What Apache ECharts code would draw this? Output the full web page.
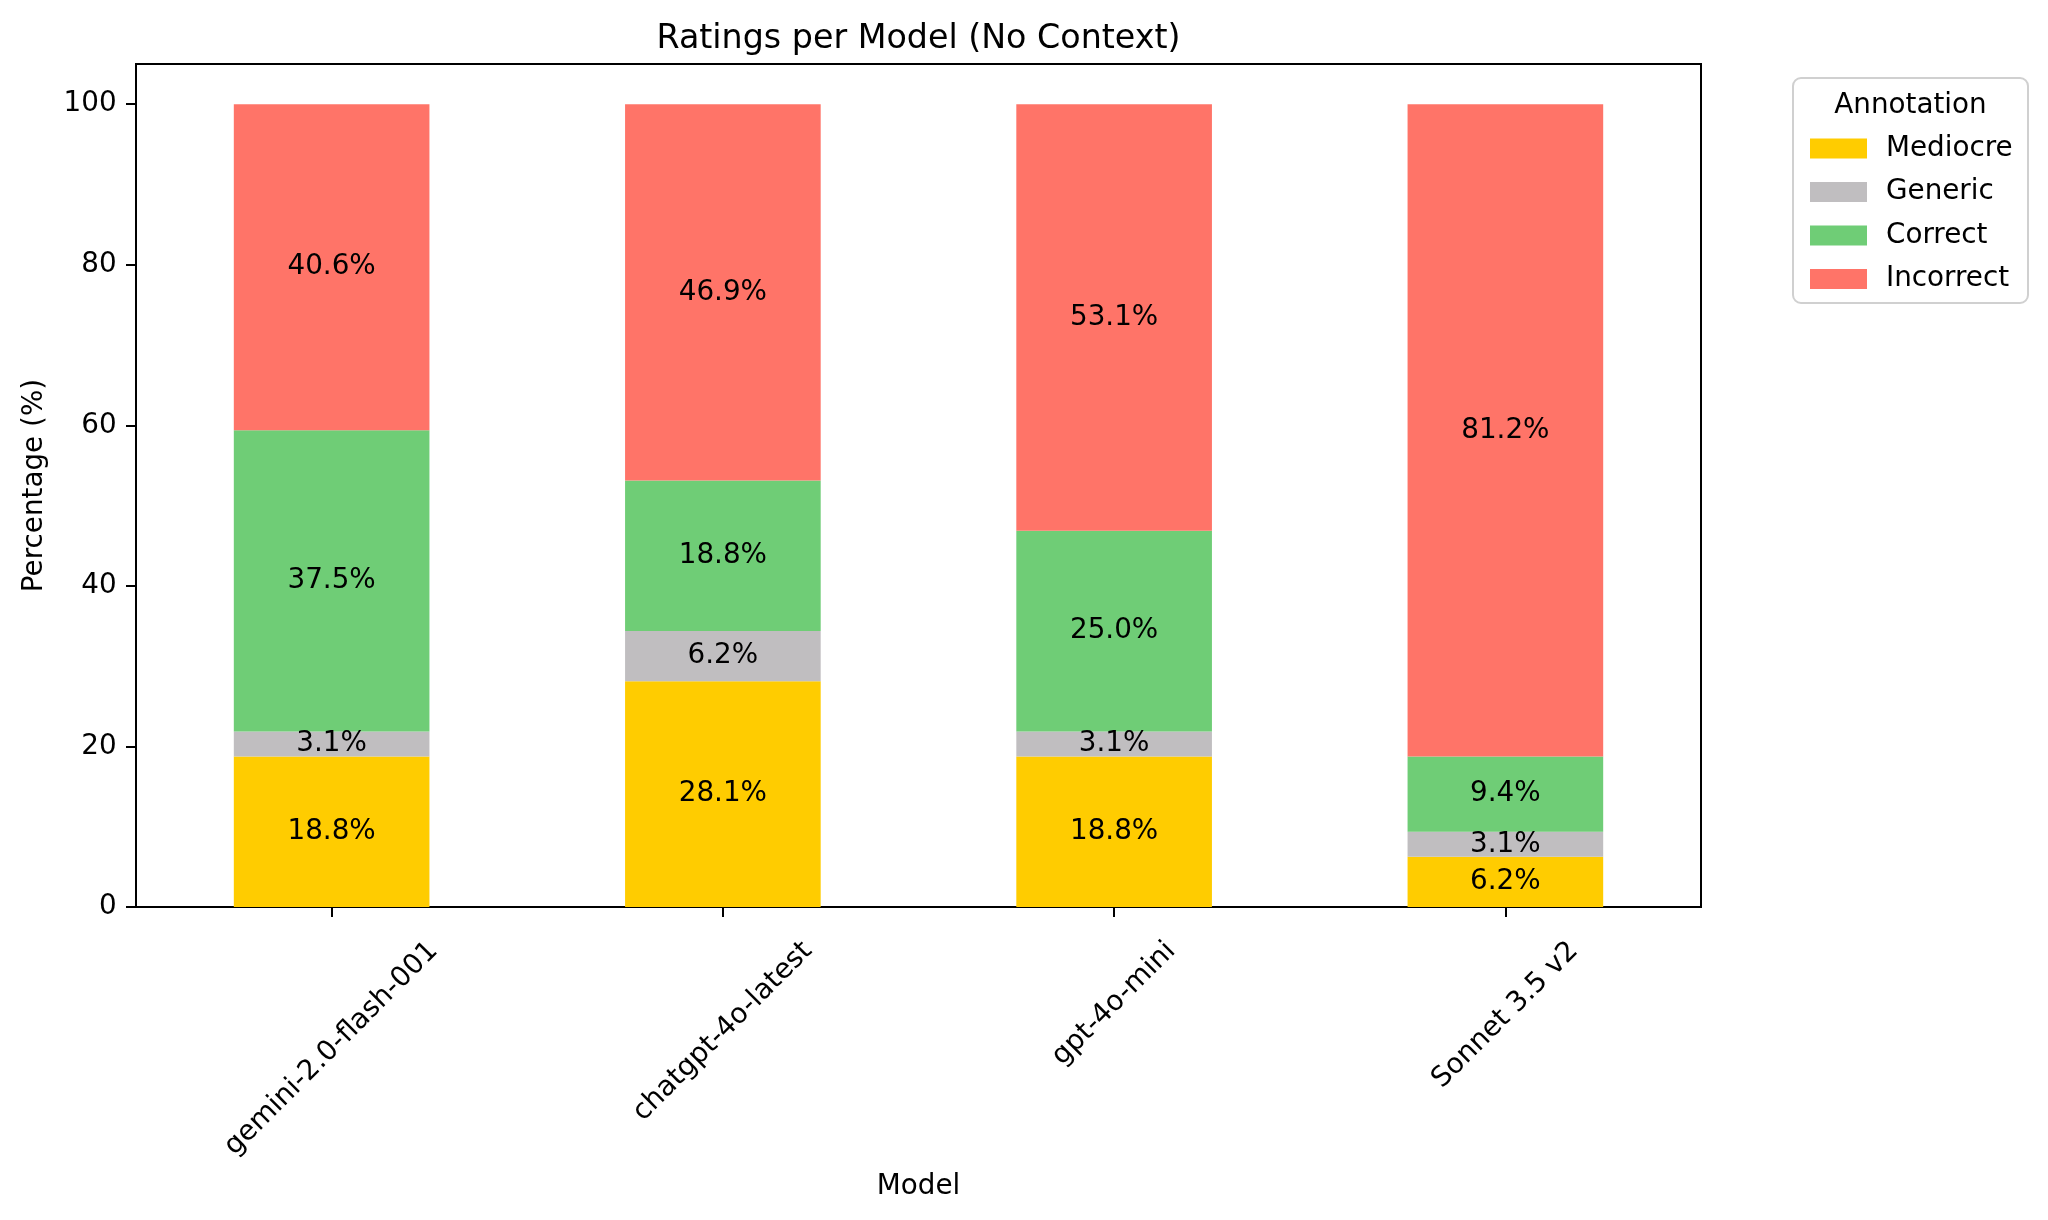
<!DOCTYPE html>
<html><head><meta charset="utf-8">
<script src="https://cdn.jsdelivr.net/npm/echarts@6/dist/echarts.min.js"></script>
<style>html,body{margin:0;padding:0;background:#fff}#c{width:2048px;height:1220px}</style>
</head><body><div id="c"></div>
<script>
const categories = ['gemini-2.0-flash-001', 'chatgpt-4o-latest', 'gpt-4o-mini', 'Sonnet 3.5 v2'];
const seriesNames = ['Mediocre', 'Generic', 'Correct', 'Incorrect'];
const mediocre = [18.75, 28.125, 18.75, 6.25];
const generic = [3.125, 6.25, 3.125, 3.125];
const correct = [37.5, 18.75, 25.0, 9.375];
const incorrect = [40.625, 46.875, 53.125, 81.25];
const yTicks = [0, 20, 40, 60, 80, 100];
const colors = ['#FFCC00', '#C0BEC0', '#6FCD76', '#FF7468'];

const FONT = 'DejaVu Sans';
const FS = 27.8;

function fmt(v) {
  const x = v * 10;
  const f = Math.floor(x + 1e-9);
  let n;
  if (Math.abs(x - f - 0.5) < 1e-9) n = (f % 2 === 0) ? f : f + 1;
  else n = Math.round(x);
  return (n / 10).toFixed(1) + '%';
}

// rotated x labels, matplotlib-like (centered on tick, bbox top fixed)
const ctx = document.createElement('canvas').getContext('2d');
ctx.font = FS + 'px "' + FONT + '"';
const M = 20;
const rich = {};
categories.forEach((c, i) => {
  const w = ctx.measureText(c).width;
  const D = 30 + 0.354 * (w + 27);
  const p = Math.SQRT2 * (D - M);
  rich['c' + i] = { fontSize: FS, fontFamily: FONT, color: '#000', padding: [p, p, 0, 0] };
});

const seriesData = [mediocre, generic, correct, incorrect];
const series = seriesNames.map((name, i) => ({
  name: name,
  type: 'bar',
  stack: 'total',
  barWidth: '50%',
  data: seriesData[i],
  itemStyle: { color: colors[i] },
  label: {
    show: true, position: 'inside', color: '#000', fontSize: FS, fontFamily: FONT,
    textBorderWidth: 0, formatter: p => fmt(p.value)
  },
  emphasis: { disabled: true }
}));

const chart = echarts.init(document.getElementById('c'), null, { renderer: 'canvas' });
chart.setOption({
  animation: false,
  backgroundColor: '#fff',
  textStyle: { fontFamily: FONT },
  title: {
    text: 'Ratings per Model (No Context)',
    left: 918.5, top: 22.6, padding: 0, textAlign: 'center',
    textStyle: { fontSize: 33.3, fontWeight: 'normal', color: '#000', fontFamily: FONT }
  },
  grid: {
    left: 136, right: 347, top: 64, bottom: 313,
    show: true, borderColor: '#000', borderWidth: 2, backgroundColor: 'transparent'
  },
  legend: {
    orient: 'vertical', left: 1805, top: 129.5, itemWidth: 57, itemHeight: 20, itemGap: 15.5,
    icon: 'rect', data: seriesNames, selectedMode: false,
    textStyle: { fontSize: FS, fontFamily: FONT, color: '#000', lineHeight: 28, padding: [0, 0, 0, 14] }
  },
  graphic: [
    { type: 'rect', z: 0, shape: { x: 1793, y: 78, width: 235, height: 225, r: 8 },
      style: { fill: '#fff', stroke: '#d0d0d0', lineWidth: 2 } },
    { type: 'text', z: 1, x: 1910.5, y: 105.6,
      style: { text: 'Annotation', fontSize: FS, fontFamily: FONT, fill: '#000', textAlign: 'center', textVerticalAlign: 'middle' } }
  ],
  xAxis: {
    type: 'category', data: categories,
    name: 'Model', nameLocation: 'middle', nameGap: 266,
    nameTextStyle: { fontSize: FS, fontFamily: FONT, color: '#000' },
    axisLine: { show: true, lineStyle: { color: '#000', width: 2 } },
    axisTick: { show: true, alignWithLabel: true, length: 10, lineStyle: { color: '#000', width: 2 } },
    axisLabel: {
      interval: 0, rotate: 45, margin: M, align: 'center', verticalAlign: 'middle',
      fontSize: FS, fontFamily: FONT, color: '#000',
      formatter: (val, idx) => '{c' + idx + '|' + val + '}', rich: rich
    },
    splitLine: { show: false }
  },
  yAxis: {
    type: 'value', min: 0, max: 105, interval: 20,
    name: 'Percentage (%)', nameLocation: 'middle', nameGap: 87,
    nameTextStyle: { fontSize: FS, fontFamily: FONT, color: '#000' },
    axisLine: { show: true, lineStyle: { color: '#000', width: 2 } },
    axisTick: { show: true, length: 10, lineStyle: { color: '#000', width: 2 }, customValues: yTicks },
    axisLabel: { fontSize: FS, fontFamily: FONT, color: '#000', margin: 19.4, customValues: yTicks },
    splitLine: { show: false }
  },
  series: series
});
</script>
</body></html>
